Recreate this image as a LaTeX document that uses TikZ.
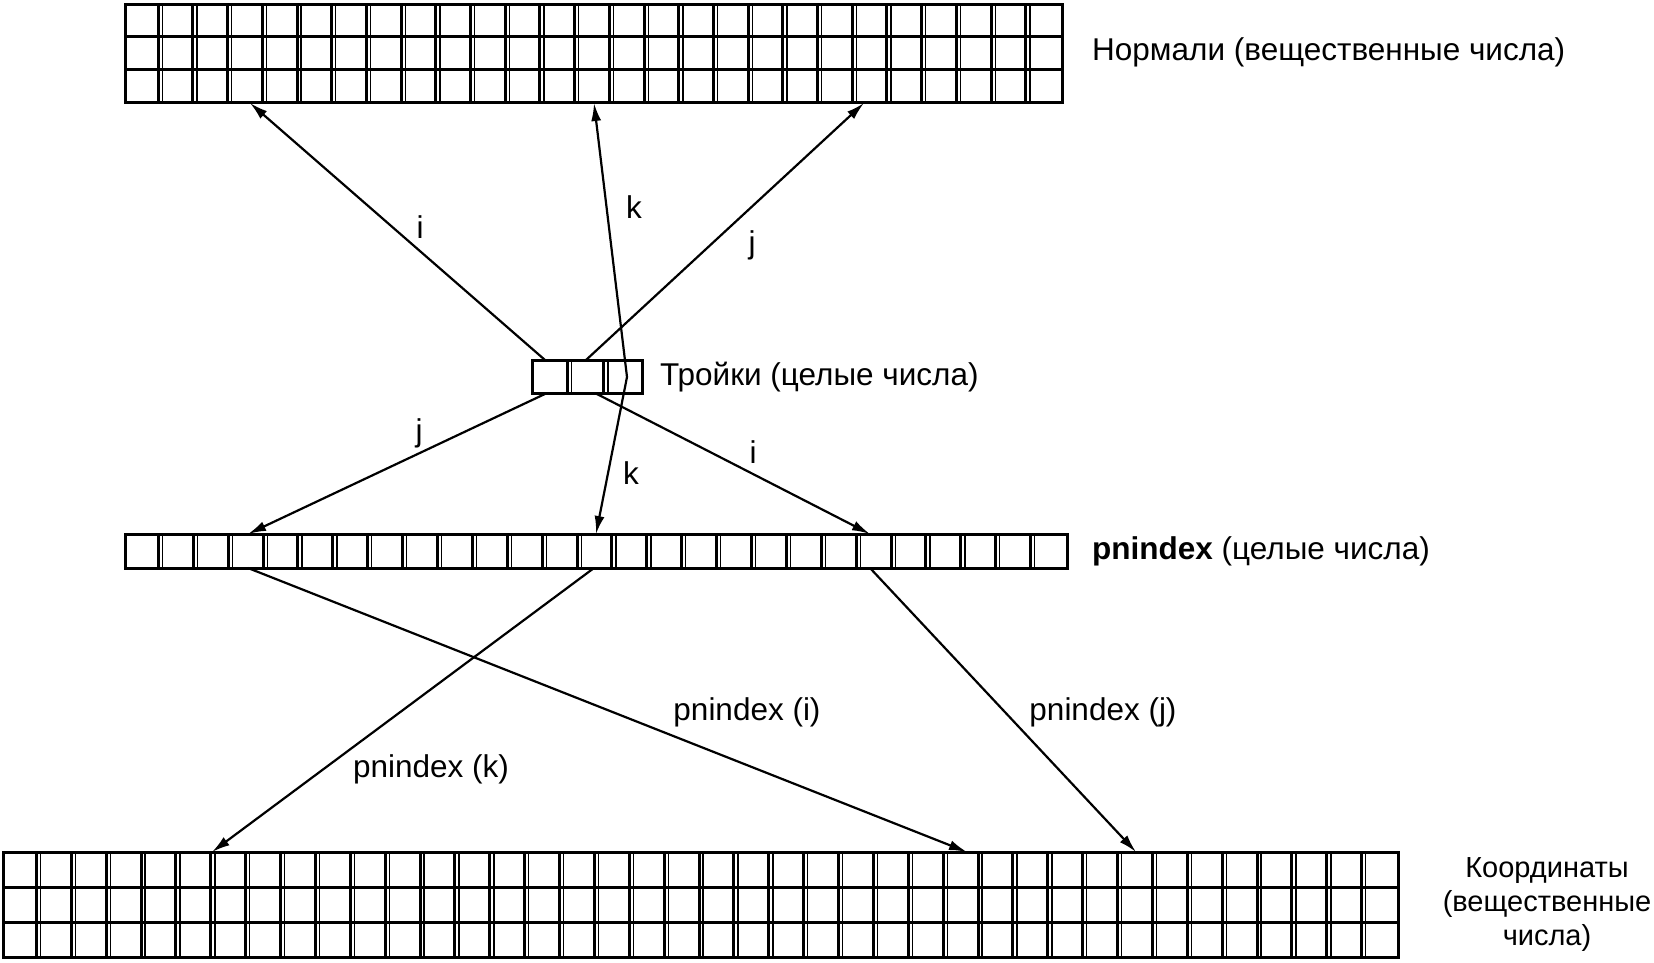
\documentclass[tikz,border=0pt]{standalone}
\usepackage{fontspec}
\setmainfont{Liberation Sans}
\usetikzlibrary{arrows.meta}
\tikzset{
  gridline/.style={line width=3pt},
  thinline/.style={line width=1.3pt},
  conn/.style={line width=2.2pt, -{Latex[length=18pt,width=10pt]}},
  lbl/.style={font=\fontsize{31.5}{34}\selectfont, inner sep=0pt},
  lblsmall/.style={font=\fontsize{29}{34}\selectfont, inner sep=0pt},
}
% name, x0, y0, x1, y1, columns
\newcommand\cellgrid[6]{%
  \pgfmathsetmacro\cgw{(#4-#2)/#6}%
  \pgfmathtruncatemacro\cgn{#6-1}%
  \draw[gridline] (#2,#3) rectangle (#4,#5);
  \path (#2,#3) coordinate (#1-nw) (#4,#5) coordinate (#1-se);
  \foreach \i in {1,...,\cgn}{%
    \draw[gridline] ({#2+\i*\cgw-1.5},#3) -- ({#2+\i*\cgw-1.5},#5);
    \draw[thinline] ({#2+\i*\cgw+2.6},#3) -- ({#2+\i*\cgw+2.6},#5);
  }%
}
\begin{document}
\begin{tikzpicture}[x=1pt,y=-1pt]
\useasboundingbox (0,0) rectangle (1654,962);

% grids
\cellgrid{norm}{125}{4}{1062}{102}{27}
\draw[gridline] (125,36.7) -- (1062,36.7) (125,69.3) -- (1062,69.3);
\cellgrid{tri}{532}{360}{642}{393}{3}
\cellgrid{pn}{125}{534}{1067}{568}{27}
\cellgrid{crd}{3}{852}{1398}{957}{40}
\draw[gridline] (3,887) -- (1398,887) (3,922) -- (1398,922);

% connector end points
\coordinate (nI) at (250,103);
\coordinate (nK) at (594,103);
\coordinate (nJ) at (864,103);
\coordinate (tI) at (545,360);
\coordinate (tJ) at (586,360);
\coordinate (tK) at (627,377);
\coordinate (tBJ) at (547,393);
\coordinate (tBI) at (595,393);
\coordinate (pJ) at (248,534);
\coordinate (pK) at (596,534);
\coordinate (pI) at (870,534);
\coordinate (pbI) at (248,568);
\coordinate (pbK) at (594,568);
\coordinate (pbJ) at (870,568);
\coordinate (cK) at (212,852);
\coordinate (cI) at (967,852);
\coordinate (cJ) at (1136,852);

% connectors
\draw[conn] (tI) -- (nI);
\draw[conn] (tK) -- (nK);
\draw[conn] (tJ) -- (nJ);
\draw[conn] (tBJ) -- (pJ);
\draw[conn] (tK) -- (pK);
\draw[conn] (tBI) -- (pI);
\draw[conn] (pbI) -- (cI);
\draw[conn] (pbK) -- (cK);
\draw[conn] (pbJ) -- (cJ);

% labels
\node[lbl, anchor=base] (li1) at (420,238) {i};
\node[lbl, anchor=base] (lk1) at (634,218) {k};
\node[lbl, anchor=base] (lj1) at (752,253) {j};
\node[lbl, anchor=base] (lj2) at (419,441) {j};
\node[lbl, anchor=base] (lk2) at (631,484) {k};
\node[lbl, anchor=base] (li2) at (753,463) {i};
\node[lbl, anchor=base] (lpi) at (747,720) {pnindex (i)};
\node[lbl, anchor=base] (lpj) at (1103,720) {pnindex (j)};
\node[lbl, anchor=base] (lpk) at (431,777) {pnindex (k)};

\node[lbl, anchor=base west] (tnorm) at (1092,60) {Нормали (вещественные числа)};
\node[lbl, anchor=base west] (ttri) at (660,385) {Тройки (целые числа)};
\node[lbl, anchor=base west] (tpn) at (1092,559) {\textbf{pnindex} (целые числа)};
\node[lblsmall, align=center, anchor=center] (tcrd) at (1547,905) {Координаты\\(вещественные\\числа)};
\end{tikzpicture}
\end{document}
